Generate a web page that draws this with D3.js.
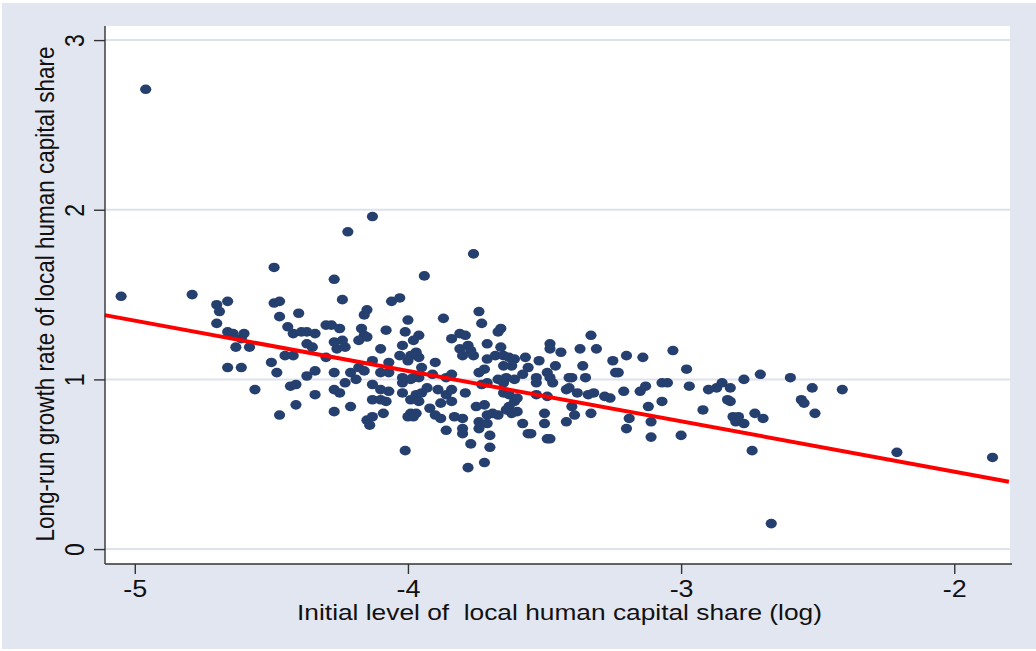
<!DOCTYPE html>
<meta charset="utf-8">
<style>
body { margin: 0; background: #fff; }
text { font-family: "Liberation Sans", Arial, sans-serif; fill: #111; }
</style>
<body>
<script src="https://cdn.jsdelivr.net/npm/d3@7"></script>
<script>
// initial level of local human capital share (log)
var initialLevel = [
  -5.05,-4.96,-4.79,-4.70,-4.69,-4.66,-4.70,-4.66,-4.64,-4.60,-4.63,-4.58,-4.61,-4.66,-4.61,-4.56,
  -4.49,-4.49,-4.47,-4.47,-4.40,-4.44,-4.42,-4.39,-4.37,-4.34,-4.37,-4.35,-4.45,-4.42,-4.50,-4.48,
  -4.37,-4.34,-4.43,-4.41,-4.34,-4.41,-4.47,-4.30,-4.30,-4.22,-4.27,-4.24,-4.13,-3.76,-3.94,-4.06,
  -4.03,-4.16,-4.15,-4.00,-3.87,-3.74,-3.73,-4.28,-4.25,-4.17,-4.16,-4.18,-4.15,-4.08,-4.01,-3.96,
  -3.98,-4.27,-4.24,-4.23,-4.26,-4.10,-4.02,-3.84,-3.81,-3.79,-3.81,-3.78,-3.77,-3.80,-3.76,-3.71,
  -4.03,-3.99,-3.97,-3.96,-4.00,-4.13,-4.07,-3.90,-3.71,-4.27,-4.21,-4.18,-4.16,-4.10,-4.07,-4.02,
  -3.98,-3.95,-3.96,-3.91,-3.84,-3.86,-3.74,-3.72,-4.23,-4.19,-4.27,-4.25,-4.13,-4.10,-4.07,-4.02,
  -3.99,-4.02,-3.97,-3.95,-3.93,-3.89,-3.86,-3.84,-3.79,-3.71,-4.13,-4.10,-4.08,-3.99,-3.96,-3.88,
  -3.84,-3.75,-3.72,-4.21,-4.27,-3.99,-3.97,-4.00,-3.98,-3.92,-3.90,-3.88,-3.83,-3.80,-4.09,-4.15,
  -4.13,-4.14,-3.74,-3.71,-3.80,-3.86,-3.74,-3.80,-3.77,-3.70,-4.01,-3.70,-3.72,-3.78,-3.67,-3.66,
  -3.66,-3.48,-3.48,-3.44,-3.37,-3.33,-3.31,-3.25,-3.20,-3.14,-3.68,-3.65,-3.63,-3.61,-3.57,-3.52,
  -3.65,-3.62,-3.56,-3.49,-3.46,-3.36,-3.24,-3.23,-3.67,-3.64,-3.61,-3.58,-3.53,-3.48,-3.41,-3.40,
  -3.35,-3.65,-3.53,-3.47,-3.73,-3.65,-3.63,-3.61,-3.60,-3.53,-3.49,-3.42,-3.38,-3.41,-3.34,-3.32,
  -3.28,-3.26,-3.21,-3.15,-3.69,-3.67,-3.64,-3.63,-3.60,-3.62,-3.40,-3.39,-3.50,-3.50,-3.58,-3.42,
  -3.33,-3.19,-3.20,-3.56,-3.55,-3.49,-3.48,-3.71,-3.13,-3.03,-2.98,-3.07,-3.05,-2.97,-2.90,-2.87,
  -2.85,-2.82,-2.83,-2.82,-3.12,-3.07,-2.92,-2.81,-2.79,-2.80,-2.77,-2.73,-2.70,-3.11,-3.11,-3.00,
  -2.74,-2.77,-2.71,-2.60,-2.56,-2.55,-2.51,-2.41,-2.21,-1.86,-2.67,-2.52
];
// long-run growth rate of local human capital share
var growthRate = [
  1.49,2.71,1.50,1.44,1.40,1.46,1.33,1.28,1.27,1.27,1.19,1.19,1.24,1.07,1.07,0.94,
  1.66,1.45,1.46,1.37,1.39,1.31,1.27,1.28,1.28,1.27,1.21,1.19,1.14,1.14,1.10,1.04,
  1.02,1.05,0.96,0.97,0.91,0.85,0.79,1.32,1.13,1.87,1.59,1.47,1.96,1.74,1.61,1.46,
  1.48,1.38,1.41,1.35,1.36,1.40,1.33,1.32,1.30,1.30,1.26,1.23,1.25,1.29,1.28,1.26,
  1.23,1.22,1.23,1.19,1.18,1.18,1.20,1.24,1.27,1.26,1.18,1.20,1.17,1.14,1.14,1.21,
  1.14,1.14,1.16,1.13,1.11,1.11,1.10,1.10,1.12,1.04,1.04,1.07,1.05,1.04,1.04,1.01,
  1.01,1.07,1.01,1.03,1.03,1.01,1.04,1.06,0.98,1.00,0.94,0.92,0.97,0.94,0.93,0.98,
  1.00,0.92,0.91,0.92,0.95,0.94,0.91,0.94,0.92,0.98,0.88,0.88,0.87,0.88,0.87,0.86,
  0.87,0.84,0.85,0.84,0.81,0.80,0.80,0.78,0.78,0.83,0.79,0.77,0.78,0.77,0.80,0.76,
  0.78,0.73,0.75,0.79,0.71,0.70,0.71,0.68,0.62,0.67,0.58,0.60,0.51,0.48,1.28,1.30,
  1.19,1.21,1.18,1.16,1.18,1.26,1.18,1.11,1.14,1.13,1.14,1.14,1.13,1.12,1.13,1.11,
  1.08,1.08,1.07,1.04,1.08,1.08,1.04,1.04,1.00,1.01,1.00,1.03,1.01,1.01,1.01,1.01,
  1.01,0.98,0.98,0.98,0.97,0.92,0.91,0.87,0.89,0.91,0.90,0.94,0.92,0.95,0.91,0.92,
  0.90,0.89,0.93,0.93,0.80,0.79,0.82,0.84,0.81,0.80,0.84,0.79,0.80,0.74,0.74,0.75,
  0.80,0.77,0.71,0.68,0.68,0.65,0.65,0.74,0.96,1.17,1.06,0.98,0.98,0.96,0.94,0.95,
  0.98,0.95,0.88,0.87,0.84,0.87,0.82,0.78,0.78,0.75,0.74,0.80,0.77,0.75,0.66,0.67,
  0.58,1.00,1.03,1.01,0.88,0.86,0.80,0.94,0.57,0.54,0.15,0.95
];
// fitted line end points
var fitX = [-5.11, -1.80];
var fitY = [1.379, 0.397];

var xTicks = [-5, -4, -3, -2];
var yTicks = [0, 1, 2, 3];
var xTitle = "Initial level of  local human capital share (log)";
var yTitle = "Long-run growth rate of local human capital share";

var width = 1036, height = 651;
var plotLeft = 105, plotRight = 1010, plotTop = 26, plotBottom = 564;
var stretch = 1.17;

var x = d3.scaleLinear().domain([-5.109, -1.796]).range([plotLeft, plotRight]);
var y = d3.scaleLinear().domain([-0.088, 3.083]).range([plotBottom, plotTop]);

var svg = d3.select("body").append("svg")
    .attr("width", width)
    .attr("height", height);

svg.append("rect")
    .attr("x", 2).attr("y", 3)
    .attr("width", width - 2).attr("height", 646)
    .attr("fill", "#e2e6f0");

svg.append("rect")
    .attr("x", plotLeft).attr("y", plotTop)
    .attr("width", plotRight - plotLeft).attr("height", plotBottom - plotTop)
    .attr("fill", "#fff");

// grid
svg.append("g").selectAll("line")
    .data(yTicks)
  .enter().append("line")
    .attr("x1", plotLeft).attr("x2", plotRight)
    .attr("y1", function(d) { return y(d); })
    .attr("y2", function(d) { return y(d); })
    .attr("stroke", "#dde2ee")
    .attr("stroke-width", 2);

// points
svg.append("g").selectAll("ellipse")
    .data(initialLevel)
  .enter().append("ellipse")
    .attr("cx", function(d) { return x(d); })
    .attr("cy", function(d, i) { return y(growthRate[i]); })
    .attr("rx", 5.6)
    .attr("ry", 4.8)
    .attr("fill", "#253f6f");

// fitted line
svg.append("line")
    .attr("x1", x(fitX[0])).attr("y1", y(fitY[0]))
    .attr("x2", x(fitX[1])).attr("y2", y(fitY[1]))
    .attr("stroke", "#ff0000")
    .attr("stroke-width", 4);

// axes
var xAxis = svg.append("g")
    .attr("transform", "translate(0," + plotBottom + ")")
    .call(d3.axisBottom(x).tickValues(xTicks).tickSize(10).tickSizeOuter(0).tickFormat(d3.format("d")));

var yAxis = svg.append("g")
    .attr("transform", "translate(" + plotLeft + ",0)")
    .call(d3.axisLeft(y).tickValues(yTicks).tickSize(11).tickSizeOuter(0).tickFormat(d3.format("d")));

[xAxis, yAxis].forEach(function(a) {
  a.select(".domain").attr("stroke", "#333").attr("stroke-width", 1.4);
  a.selectAll(".tick line").attr("stroke", "#333").attr("stroke-width", 1.4);
  a.selectAll("text").attr("font-size", 23).attr("fill", "#111")
      .attr("font-family", "'Liberation Sans', Arial, sans-serif");
});
xAxis.select(".domain").attr("d", "M" + plotLeft + ",0H" + (plotRight + 2));
yAxis.select(".domain").attr("d", "M0," + plotBottom + "V" + plotTop);

xAxis.selectAll(".tick text")
    .attr("y", 0).attr("dy", 0)
    .attr("transform", "translate(0,33) scale(" + stretch + ",1)")
    .text(function(d) { return d < 0 ? "-" + Math.abs(d) : d; });

yAxis.selectAll(".tick text")
    .attr("x", 0).attr("dy", 0)
    .attr("text-anchor", "middle")
    .attr("transform", "translate(-21,0) scale(" + stretch + ",1) rotate(-90)");

// titles
svg.append("text")
    .attr("transform", "translate(" + ((plotLeft + plotRight) / 2 + 2) + ",620) scale(" + stretch + ",1)")
    .attr("text-anchor", "middle")
    .attr("font-size", 22.5)
    .style("white-space", "pre")
    .text(xTitle);

svg.append("text")
    .attr("transform", "translate(54,294) scale(" + stretch + ",1) rotate(-90)")
    .attr("text-anchor", "middle")
    .attr("font-size", 22.5)
    .text(yTitle);
</script>
